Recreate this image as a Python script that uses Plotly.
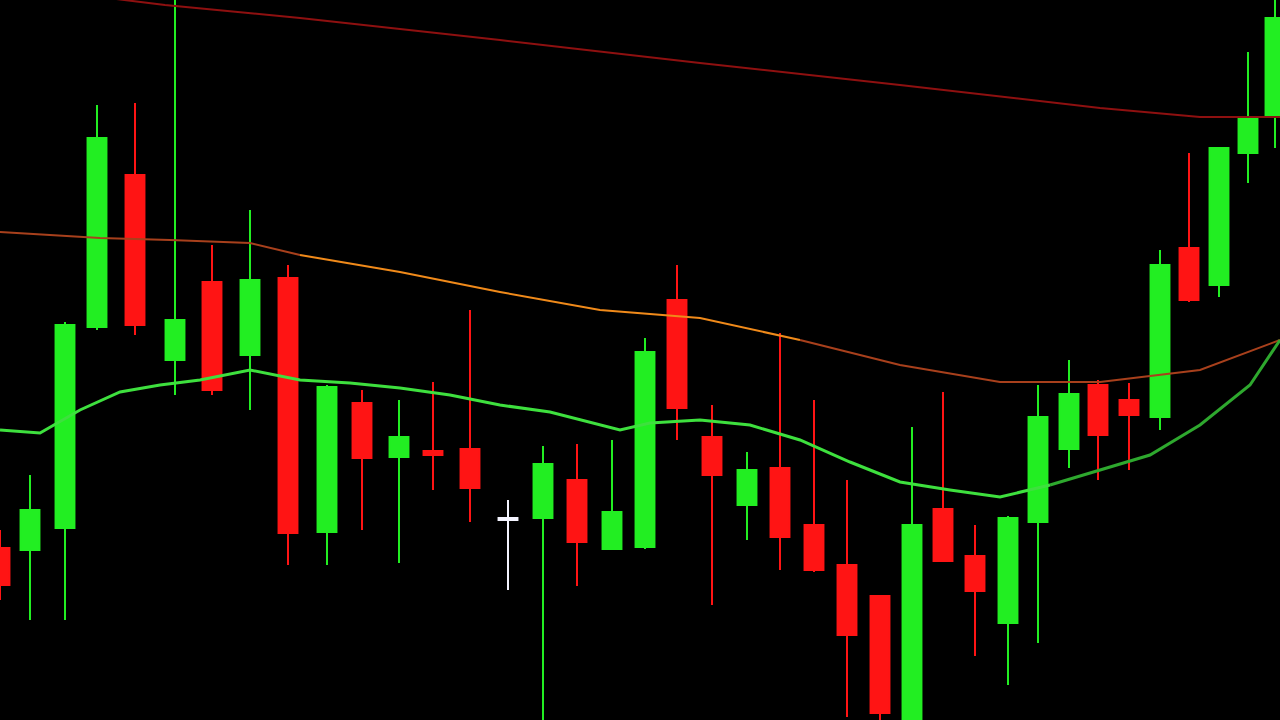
import plotly.graph_objects as go

# Candle positions (time axis) and OHLC prices
t = [0, 30, 65, 97, 135, 175, 212, 250, 288, 327, 362, 399, 433, 470,
     543, 577, 612, 645, 677, 712, 747, 780, 814, 847, 880, 912, 943,
     975, 1008, 1038, 1069, 1098, 1129, 1160, 1189, 1219, 1248, 1275]
open_ = [172, 170, 192, 393, 545, 360, 438, 365, 442, 188, 317, 263, 269, 271,
         202, 240, 171, 173, 420, 283, 215, 252, 195, 155, 124, -5, 211,
         164, 97, 198, 271, 335, 320, 303, 472, 435, 567, 605]
high = [190, 245, 398, 615, 617, 730, 475, 510, 455, 335, 330, 320, 338, 410,
        274, 276, 280, 382, 455, 315, 268, 387, 320, 240, 124, 293, 328,
        195, 204, 335, 360, 340, 337, 470, 567, 573, 668, 725]
low = [120, 100, 100, 390, 385, 325, 325, 310, 155, 155, 190, 157, 230, 198,
       -10, 134, 170, 171, 280, 115, 180, 150, 148, 3, -2, -5, 159,
       64, 35, 77, 252, 240, 250, 290, 418, 423, 537, 572]
close = [135, 210, 395, 582, 395, 400, 330, 440, 187, 333, 262, 283, 265, 232,
         256, 178, 208, 368, 312, 245, 250, 183, 150, 85, 7, 195, 159,
         129, 202, 303, 326, 285, 305, 455, 420, 572, 602, 702]

# the single white doji
doji_t = [508]
doji_o, doji_h, doji_l, doji_c = [202], [220], [130], [200]

# moving averages
ma_slow_x = [100, 165, 300, 500, 700, 900, 1100, 1200, 1280]
ma_slow = [723, 715, 702, 680, 657, 635, 612, 603, 603]

ma_mid_x = [0, 100, 170, 250, 300, 400, 500, 600, 700, 800, 900, 1000, 1100, 1200, 1280]
ma_mid = [488, 482, 480, 477, 465, 448, 428, 410, 402, 380, 355, 338, 338, 350, 380]

ma_fast_x = [0, 40, 80, 120, 160, 200, 250, 300, 350, 400, 450, 500, 550, 600, 620,
             650, 700, 750, 800, 850, 900, 950, 1000, 1050, 1100, 1150, 1200, 1250, 1280]
ma_fast = [290, 287, 310, 328, 335, 340, 350, 340, 337, 332, 325, 315, 308, 295, 290,
           297, 300, 295, 280, 258, 238, 230, 223, 235, 250, 265, 295, 335, 380]

fig = go.Figure()

# moving averages, drawn behind the candles
fig.add_trace(go.Scatter(x=ma_slow_x, y=ma_slow, mode="lines",
                         line=dict(color="#8e1010", width=2), hoverinfo="skip"))
fig.add_trace(go.Scatter(x=ma_mid_x[:5], y=ma_mid[:5], mode="lines",
                         line=dict(color="#a8401c", width=2), hoverinfo="skip"))
fig.add_trace(go.Scatter(x=ma_mid_x[4:10], y=ma_mid[4:10], mode="lines",
                         line=dict(color="#f08a1a", width=2), hoverinfo="skip"))
fig.add_trace(go.Scatter(x=ma_mid_x[9:], y=ma_mid[9:], mode="lines",
                         line=dict(color="#a8401c", width=2), hoverinfo="skip"))
fig.add_trace(go.Scatter(x=ma_fast_x[:24], y=ma_fast[:24], mode="lines",
                         line=dict(color="#3ee03e", width=3), hoverinfo="skip"))
fig.add_trace(go.Scatter(x=ma_fast_x[23:], y=ma_fast[23:], mode="lines",
                         line=dict(color="#2ea82e", width=3), hoverinfo="skip"))

fig.add_trace(go.Candlestick(
    x=t, open=open_, high=high, low=low, close=close,
    increasing=dict(line=dict(color="#22ee22", width=2), fillcolor="#22ee22"),
    decreasing=dict(line=dict(color="#ff1414", width=2), fillcolor="#ff1414"),
    whiskerwidth=0,
))
fig.add_trace(go.Candlestick(
    x=doji_t, open=doji_o, high=doji_h, low=doji_l, close=doji_c,
    increasing=dict(line=dict(color="#f4f4ff", width=2), fillcolor="#f4f4ff"),
    decreasing=dict(line=dict(color="#f4f4ff", width=2), fillcolor="#f4f4ff"),
    whiskerwidth=0,
))

fig.update_layout(
    width=1280, height=720,
    margin=dict(l=0, r=0, t=0, b=0),
    paper_bgcolor="#000000",
    plot_bgcolor="#000000",
    showlegend=False,
    boxgap=0.0,
)
fig.update_xaxes(range=[0, 1280], visible=False, rangeslider_visible=False)
fig.update_yaxes(range=[0, 720], visible=False)

fig.write_html(
    "out.html",
    config={"displayModeBar": False},
    post_script="document.body.style.margin='0';document.body.style.background='#000';",
)
